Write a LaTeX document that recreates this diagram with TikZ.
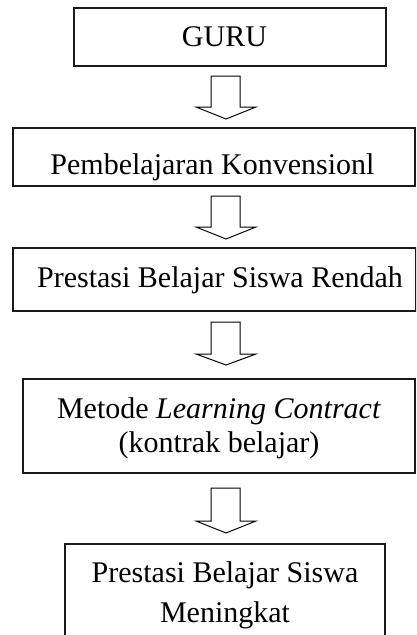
\documentclass[tikz,border=0pt]{standalone}
\usepackage{fontspec}
\setmainfont{Liberation Serif}
\begin{document}
\begin{tikzpicture}[x=1pt,y=-1pt,
  box/.style={draw=black!90, line width=1.5pt, rectangle, inner sep=0pt},
  txt/.style={font=\fontsize{30}{36}\selectfont, inner sep=0pt, anchor=base},
  blockarrow/.style={draw=black, line width=1pt, fill=white, line join=miter}]
\path[use as bounding box, clip] (0,0) rectangle (416,635);
% boxes
\node[box, minimum width=312pt, minimum height=58pt] (b1) at (230,37) {};
\node[box, minimum width=402pt, minimum height=58pt] (b2) at (214,157) {};
\node[box, minimum width=403pt, minimum height=63pt] (b3) at (214.5,279.5) {};
\node[box, minimum width=392pt, minimum height=94pt] (b4) at (219,426) {};
\node[box, minimum width=320pt, minimum height=116pt] (b5) at (225,602) {};
% texts
\node[txt] (t1) at (224.5,46) {GURU};
\node[txt] (t2) at (212.5,174) {Pembelajaran Konvensionl};
\node[txt] (t3) at (220,287) {Prestasi Belajar Siswa Rendah};
\node[txt] (t4a) at (219,418) {Metode \textit{Learning Contract}};
\node[txt] (t4b) at (219,452) {(kontrak belajar)};
\node[txt] (t5a) at (225,582) {Prestasi Belajar Siswa};
\node[txt] (t5b) at (225,622) {Meningkat};
% block arrows
\foreach \top/\sh/\tip in {76/107/119, 196/227/239, 322/354/365, 488/521/533}{
  \draw[blockarrow] (211,\top) -- (240,\top) -- (240,\sh) -- (256,\sh) -- (226,\tip)
    -- (196,\sh) -- (211,\sh) -- cycle;
}
\end{tikzpicture}
\end{document}
